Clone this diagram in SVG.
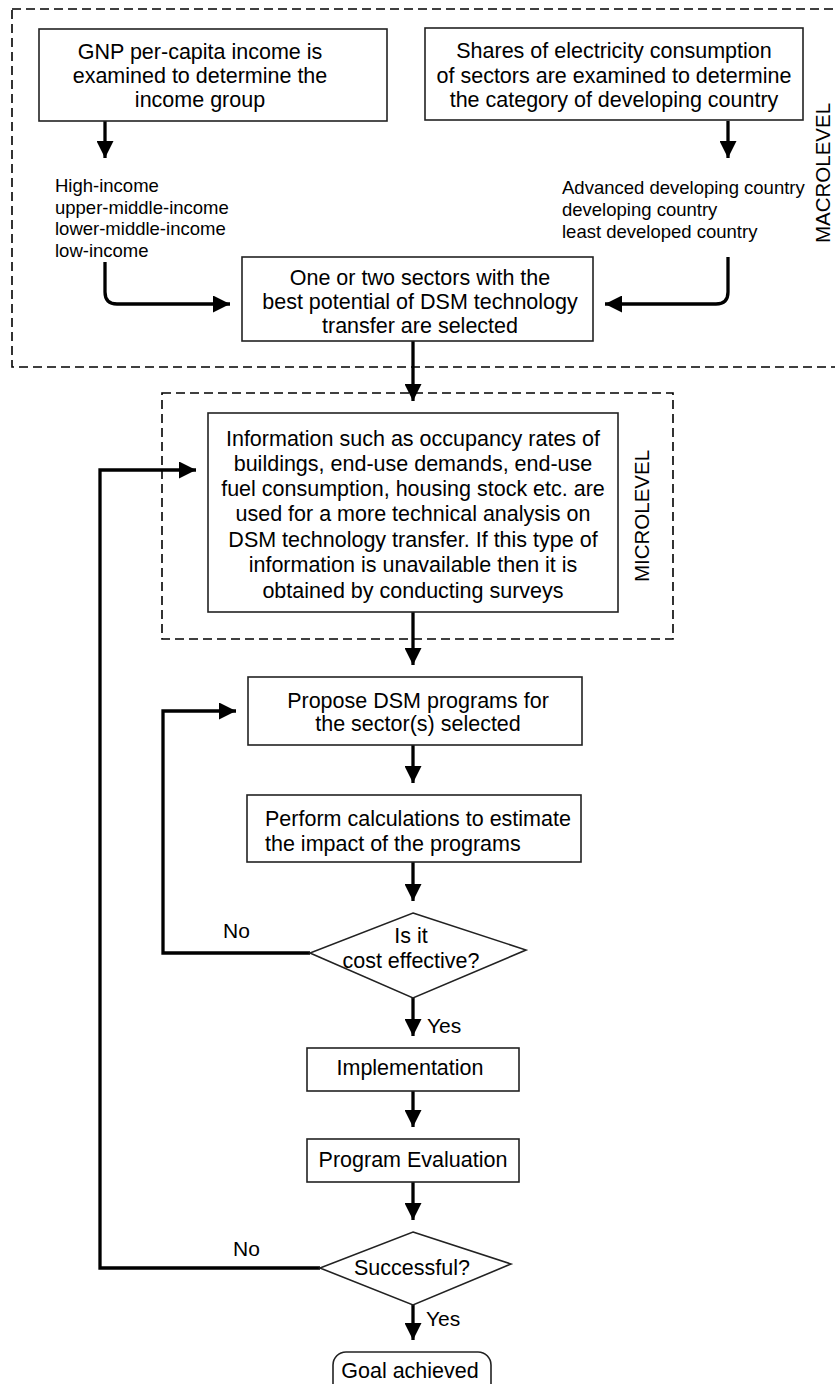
<svg xmlns="http://www.w3.org/2000/svg" width="835" height="1384" viewBox="0 0 835 1384">
<defs>
<marker id="ah" viewBox="0 0 17 17" refX="17" refY="8.5" markerWidth="17" markerHeight="17" markerUnits="userSpaceOnUse" orient="auto">
<path d="M0,0 L17,8.5 L0,17 Z" fill="#000"/>
</marker>
</defs>
<style>
.box{fill:#fff;stroke:#222;stroke-width:1.6}
.dash{fill:none;stroke:#000;stroke-width:1.6;stroke-dasharray:9 5}
.c{fill:none;stroke:#000;stroke-width:3.3}
.a{marker-end:url(#ah)}
text{font-family:"Liberation Sans",Arial,Helvetica,sans-serif;fill:#000}
.t{font-size:21.5px;text-anchor:middle}
.s{font-size:21.5px;text-anchor:start}
.l{font-size:18.5px}
.lb{font-size:21px}
</style>
<rect width="835" height="1384" fill="#fff"/>
<g id="macro-region">
<rect class="dash" x="12" y="9" width="830" height="358"/>
<text class="t" style="font-size:20.5px" transform="translate(829.5,173) rotate(-90)">MACROLEVEL</text>
</g>
<g id="micro-region">
<rect class="dash" x="162" y="393" width="511" height="246"/>
<text class="t" style="font-size:20.5px" transform="translate(648.5,516) rotate(-90)">MICROLEVEL</text>
</g>
<g id="connectors">
<path class="c a" d="M105,121 L105,158"/>
<path class="c a" d="M728,121 L728,158"/>
<path class="c a" d="M105,262 L105,292 Q105,304 117,304 L230,304"/>
<path class="c a" d="M728,257 L728,292 Q728,304 716,304 L605,304"/>
<path class="c a" d="M413,341 L413,401"/>
<path class="c a" d="M413,612 L413,665"/>
<path class="c a" d="M413,745 L413,783"/>
<path class="c a" d="M413,862 L413,901"/>
<path class="c a" d="M310,953 L163,953 L163,711 L236,711"/>
<path class="c a" d="M413,998 L413,1036"/>
<path class="c a" d="M413,1091 L413,1127"/>
<path class="c a" d="M413,1182 L413,1220"/>
<path class="c a" d="M320,1268 L100,1268 L100,470 L196,470"/>
<path class="c a" d="M413,1305 L413,1340"/>
<text class="lb" x="223" y="938">No</text>
<text class="lb" x="427" y="1033">Yes</text>
<text class="lb" x="233" y="1256">No</text>
<text class="lb" x="426" y="1326">Yes</text>
</g>
<g id="gnp">
<rect class="box" x="39" y="29" width="348" height="92"/>
<text class="t" x="200" y="59">GNP per-capita income is</text>
<text class="t" x="200" y="83">examined to determine the</text>
<text class="t" x="200" y="107">income group</text>
</g>
<g id="shares">
<rect class="box" x="425" y="28" width="378" height="92"/>
<text class="t" x="614" y="58">Shares of electricity consumption</text>
<text class="t" x="614" y="83">of sectors are examined to determine</text>
<text class="t" x="614" y="107">the category of developing country</text>
</g>
<g id="income-groups">
<text class="l" x="55" y="192">High-income</text>
<text class="l" x="55" y="213.5">upper-middle-income</text>
<text class="l" x="55" y="235">lower-middle-income</text>
<text class="l" x="55" y="256.5">low-income</text>
</g>
<g id="country-categories">
<text class="l" x="562" y="194">Advanced developing country</text>
<text class="l" x="562" y="216">developing country</text>
<text class="l" x="562" y="238">least developed country</text>
</g>
<g id="select-sectors">
<rect class="box" x="242" y="257" width="351" height="84"/>
<text class="t" x="420" y="285">One or two sectors with the</text>
<text class="t" x="420" y="309">best potential of DSM technology</text>
<text class="t" x="420" y="333">transfer are selected</text>
</g>
<g id="information">
<rect class="box" x="208" y="413" width="410" height="199"/>
<text class="t" x="413" y="446">Information such as occupancy rates of</text>
<text class="t" x="413" y="471">buildings, end-use demands, end-use</text>
<text class="t" x="413" y="496">fuel consumption, housing stock etc. are</text>
<text class="t" x="413" y="521">used for a more technical analysis on</text>
<text class="t" x="413" y="547">DSM technology transfer. If this type of</text>
<text class="t" x="413" y="572">information is unavailable then it is</text>
<text class="t" x="413" y="598">obtained by conducting surveys</text>
</g>
<g id="propose">
<rect class="box" x="248" y="677" width="334" height="68"/>
<text class="t" x="418" y="708">Propose DSM programs for</text>
<text class="t" x="418" y="731">the sector(s) selected</text>
</g>
<g id="perform">
<rect class="box" x="247" y="795" width="334" height="67"/>
<text class="s" x="265" y="826">Perform calculations to estimate</text>
<text class="s" x="265" y="851">the impact of the programs</text>
</g>
<g id="cost-effective">
<polygon class="box" points="413,913 526,950 413,998 310,953"/>
<text class="t" x="411" y="943">Is it</text>
<text class="t" x="411" y="968">cost effective?</text>
</g>
<g id="implementation">
<rect class="box" x="307" y="1048" width="212" height="43"/>
<text class="t" x="410" y="1075">Implementation</text>
</g>
<g id="evaluation">
<rect class="box" x="307" y="1139" width="212" height="43"/>
<text class="t" x="413" y="1167">Program Evaluation</text>
</g>
<g id="successful">
<polygon class="box" points="413,1232 511,1264 413,1305 320,1268"/>
<text class="t" x="412" y="1275">Successful?</text>
</g>
<g id="goal">
<rect class="box" x="333" y="1352" width="158" height="52" rx="13"/>
<text class="t" x="410" y="1378">Goal achieved</text>
</g>
</svg>
